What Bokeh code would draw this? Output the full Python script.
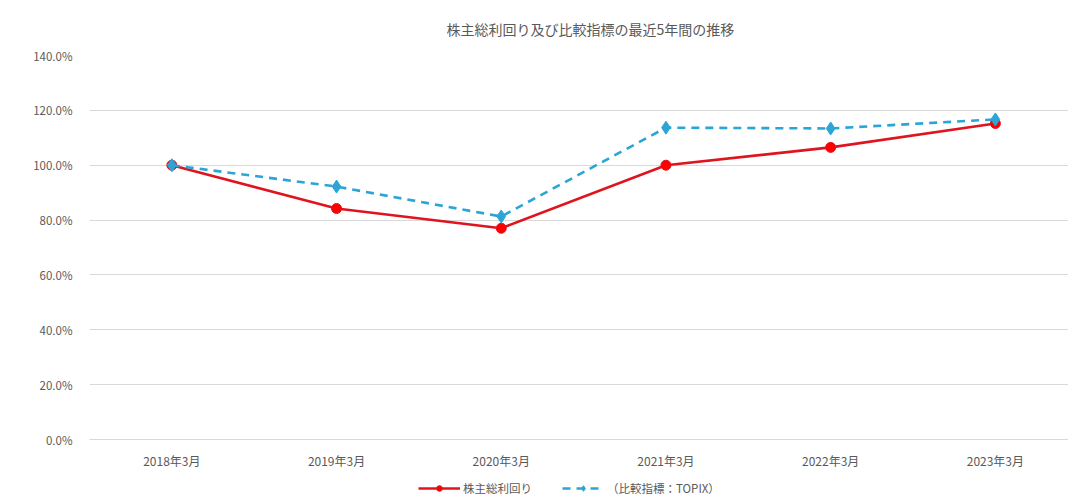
from bokeh.plotting import figure
from bokeh.layouts import column
from bokeh.models import (FixedTicker, NumeralTickFormatter, Legend, LegendItem,
                          Range1d)
from bokeh.embed import file_html
from bokeh.resources import INLINE

categories = ["2018年3月", "2019年3月", "2020年3月", "2021年3月", "2022年3月", "2023年3月"]
tsr = [1.000, 0.842, 0.770, 1.000, 1.065, 1.152]
topix = [1.000, 0.922, 0.813, 1.137, 1.134, 1.167]
y_ticks = [0.0, 0.2, 0.4, 0.6, 0.8, 1.0, 1.2, 1.4]
title_text = "株主総利回り及び比較指標の最近5年間の推移"
name_tsr = "株主総利回り"
name_topix = "（比較指標：TOPIX）"

FONT = "Noto Sans CJK JP"
GRAY = "#595959"
GRID = "#D9D9D9"
RED_LINE = "#E0141E"
RED_FILL = "#FF0000"
BLUE = "#2BA5D6"

xs = list(range(len(categories)))

p = figure(width=1068, height=475, output_backend="svg", toolbar_location=None,
           x_range=Range1d(-0.5, 5.444), y_range=Range1d(0, 1.4),
           min_border_left=89, min_border_right=0, min_border_top=55,
           min_border_bottom=36)
p.outline_line_color = None
p.background_fill_color = "white"
p.border_fill_color = "white"

# title
p.title.text = title_text
p.title.align = "left"
p.title.offset = 357
p.title.text_font = FONT
p.title.text_font_size = "14px"
p.title.text_font_style = "normal"
p.title.text_color = GRAY
p.title.standoff = 33

# axes
p.xaxis.ticker = FixedTicker(ticks=xs)
p.xaxis.major_label_overrides = {i: c for i, c in enumerate(categories)}
p.xaxis.axis_line_color = GRID
p.xaxis.major_tick_line_color = None
p.xaxis.minor_tick_line_color = None
p.xaxis.major_label_text_font = FONT
p.xaxis.major_label_text_font_size = "12px"
p.xaxis.major_label_text_color = GRAY
p.xaxis.major_label_standoff = 6

p.yaxis.ticker = FixedTicker(ticks=y_ticks)
p.yaxis.formatter = NumeralTickFormatter(format="0.0%")
p.yaxis.axis_line_color = None
p.yaxis.major_tick_line_color = None
p.yaxis.minor_tick_line_color = None
p.yaxis.major_label_text_font = FONT
p.yaxis.major_label_text_font_size = "11.5px"
p.yaxis.major_label_text_color = GRAY
p.yaxis.major_label_standoff = 11

p.xgrid.grid_line_color = None
p.ygrid.grid_line_color = GRID
p.ygrid.grid_line_width = 1

# series
p.line(xs, tsr, line_color=RED_LINE, line_width=2.6)
p.scatter(xs, tsr, marker="circle", size=10, fill_color=RED_FILL,
          line_color=RED_LINE, line_width=1)
p.line(xs, topix, line_color=BLUE, line_width=2.6, line_dash="8 6")
p.scatter(xs, topix, marker="diamond", size=13, fill_color=BLUE,
          line_color=BLUE, line_width=1)

# legend strip (separate figure below the chart; its series lie outside its view)
lg = figure(width=1068, height=26, output_backend="svg", toolbar_location=None,
            x_range=Range1d(-0.5, 5.444), y_range=Range1d(10, 11),
            min_border_left=89, min_border_right=0, min_border_top=0,
            min_border_bottom=0)
lg.axis.visible = False
lg.grid.visible = False
lg.outline_line_color = None
lg.border_fill_color = "white"
lg.background_fill_color = "white"
l1 = lg.line(xs, tsr, line_color=RED_LINE, line_width=2.6)
s1 = lg.scatter(xs, tsr, marker="circle", size=8, fill_color=RED_FILL,
                line_color=RED_LINE)
l2 = lg.line(xs, topix, line_color=BLUE, line_width=2.6, line_dash="8 6")
s2 = lg.scatter(xs, topix, marker="diamond", size=10, fill_color=BLUE,
                line_color=BLUE)

legend = Legend(items=[LegendItem(label=name_tsr, renderers=[l1, s1]),
                       LegendItem(label=name_topix, renderers=[l2, s2])],
                orientation="horizontal", location=(329, 5),
                label_text_font=FONT, label_text_font_size="11.5px",
                label_text_color=GRAY, glyph_width=42, glyph_height=14,
                label_height=14, padding=0, margin=0, spacing=30,
                label_standoff=3, border_line_color=None,
                background_fill_alpha=0)
lg.add_layout(legend, "center")

layout = column(p, lg, spacing=0)
open("out.html", "w").write(file_html(layout, INLINE))
